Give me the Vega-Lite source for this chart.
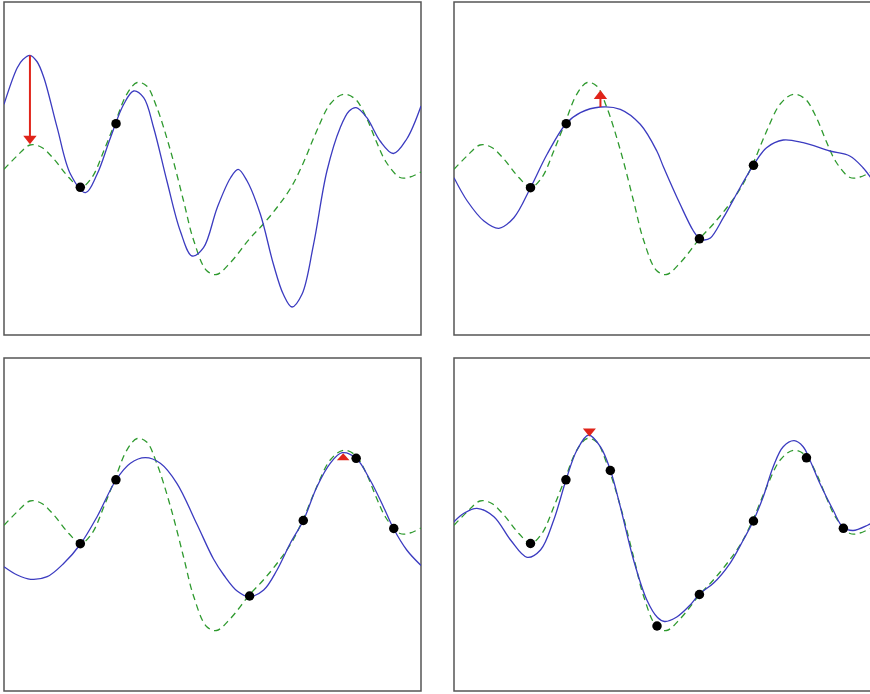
{
  "$schema": "https://vega.github.io/schema/vega-lite/v6.json",
  "padding": {"left": 3, "top": 1, "right": 0, "bottom": 0},
  "background": "white",
  "config": {"view": {"stroke": "#555555", "strokeWidth": 1.5}},
  "datasets": {
    "truth": [
      {"x":0,"y":167.3},{"x":13,"y":154},{"x":26,"y":143},{"x":37,"y":145},{"x":50,"y":157},{"x":65,"y":175.5},{"x":77,"y":185.5},{"x":88,"y":175.7},{"x":100,"y":149},{"x":112,"y":119},{"x":123,"y":92.3},{"x":133.5,"y":80.5},{"x":143,"y":84},{"x":153,"y":105},{"x":167,"y":149},{"x":180,"y":199},{"x":190,"y":238},{"x":203,"y":268.5},{"x":213,"y":272.5},{"x":227,"y":260.5},{"x":246,"y":237},{"x":260,"y":222},{"x":274,"y":205},{"x":288,"y":185},{"x":300,"y":161},{"x":313,"y":130},{"x":327,"y":102},{"x":340,"y":92.3},{"x":352,"y":97},{"x":363,"y":115},{"x":373,"y":139},{"x":383,"y":160},{"x":397,"y":175.5},{"x":407,"y":175},{"x":418,"y":170}
    ],
    "mean": [
      {"panel":1,"x":0,"y":102.3},{"panel":1,"x":13.3,"y":65.7},{"panel":1,"x":19,"y":57.5},{"panel":1,"x":26,"y":53.3},{"panel":1,"x":33,"y":59.5},{"panel":1,"x":40,"y":75.7},{"panel":1,"x":53.3,"y":125.7},{"panel":1,"x":66.7,"y":172.3},{"panel":1,"x":81.7,"y":190.7},{"panel":1,"x":93.3,"y":172.3},{"panel":1,"x":106.7,"y":135.7},{"panel":1,"x":120,"y":102.3},{"panel":1,"x":130,"y":89},{"panel":1,"x":140,"y":95.7},{"panel":1,"x":150,"y":125.7},{"panel":1,"x":163.3,"y":179},{"panel":1,"x":176.7,"y":229},{"panel":1,"x":188.5,"y":254},{"panel":1,"x":200,"y":245.7},{"panel":1,"x":213.7,"y":205.7},{"panel":1,"x":227,"y":176},{"panel":1,"x":234.7,"y":167.3},{"panel":1,"x":243.7,"y":179},{"panel":1,"x":257,"y":212.3},{"panel":1,"x":270,"y":262},{"panel":1,"x":280,"y":292.3},{"panel":1,"x":288.7,"y":305},{"panel":1,"x":298.7,"y":292.3},{"panel":1,"x":310.3,"y":242.3},{"panel":1,"x":323.7,"y":169},{"panel":1,"x":337,"y":125.7},{"panel":1,"x":346,"y":109},{"panel":1,"x":353,"y":105.7},{"panel":1,"x":363.7,"y":115.7},{"panel":1,"x":377,"y":139},{"panel":1,"x":390.3,"y":151.5},{"panel":1,"x":403.7,"y":137},{"panel":1,"x":418,"y":104},
      {"panel":2,"x":0,"y":175.7},{"panel":2,"x":13.3,"y":199},{"panel":2,"x":30,"y":219},{"panel":2,"x":45,"y":226.3},{"panel":2,"x":60,"y":215.7},{"panel":2,"x":76.7,"y":185.7},{"panel":2,"x":93.3,"y":152.3},{"panel":2,"x":112.3,"y":121.7},{"panel":2,"x":126.7,"y":110.7},{"panel":2,"x":146.7,"y":105},{"panel":2,"x":166.7,"y":107.3},{"panel":2,"x":186.7,"y":122.3},{"panel":2,"x":203.3,"y":149},{"panel":2,"x":210,"y":165},{"panel":2,"x":226.7,"y":202.3},{"panel":2,"x":240,"y":229},{"panel":2,"x":246,"y":236.5},{"panel":2,"x":251,"y":238},{"panel":2,"x":257,"y":236},{"panel":2,"x":270,"y":215.7},{"panel":2,"x":286.7,"y":185.7},{"panel":2,"x":300,"y":163.3},{"panel":2,"x":313.3,"y":145.7},{"panel":2,"x":330,"y":138},{"panel":2,"x":350,"y":140.7},{"panel":2,"x":376.7,"y":149},{"panel":2,"x":396.7,"y":154},{"panel":2,"x":410,"y":165.7},{"panel":2,"x":418,"y":176},
      {"panel":3,"x":0,"y":208.7},{"panel":3,"x":13.3,"y":217},{"panel":3,"x":26.7,"y":221.3},{"panel":3,"x":43.3,"y":218.7},{"panel":3,"x":60,"y":205.3},{"panel":3,"x":76.7,"y":186},{"panel":3,"x":93.3,"y":158.7},{"panel":3,"x":112.3,"y":122},{"panel":3,"x":126.7,"y":105.3},{"panel":3,"x":141.7,"y":99.7},{"panel":3,"x":156.7,"y":105.3},{"panel":3,"x":173.3,"y":125.3},{"panel":3,"x":193.3,"y":166},{"panel":3,"x":210,"y":201},{"panel":3,"x":220.3,"y":217},{"panel":3,"x":233.7,"y":233},{"panel":3,"x":246,"y":238.7},{"panel":3,"x":260.3,"y":232},{"panel":3,"x":273.7,"y":212},{"panel":3,"x":287,"y":185.3},{"panel":3,"x":300.3,"y":162},{"panel":3,"x":313.7,"y":128.7},{"panel":3,"x":327,"y":105.3},{"panel":3,"x":339,"y":94.7},{"panel":3,"x":353,"y":100.3},{"panel":3,"x":367,"y":122},{"panel":3,"x":380.3,"y":148.7},{"panel":3,"x":390.3,"y":170.3},{"panel":3,"x":403.7,"y":192},{"panel":3,"x":418,"y":207.5},
      {"panel":4,"x":0,"y":163.7},{"panel":4,"x":10,"y":155.3},{"panel":4,"x":23,"y":150.3},{"panel":4,"x":40,"y":158.7},{"panel":4,"x":56.7,"y":182},{"panel":4,"x":73.3,"y":199.3},{"panel":4,"x":86.7,"y":192},{"panel":4,"x":100,"y":162},{"panel":4,"x":112.3,"y":122},{"panel":4,"x":123.3,"y":92},{"panel":4,"x":135,"y":77},{"panel":4,"x":146.7,"y":88.7},{"panel":4,"x":156.7,"y":112},{"panel":4,"x":166.7,"y":148.7},{"panel":4,"x":180,"y":202},{"panel":4,"x":193.3,"y":242},{"panel":4,"x":204,"y":259.5},{"panel":4,"x":211,"y":263.5},{"panel":4,"x":223.3,"y":259},{"panel":4,"x":236.7,"y":247},{"panel":4,"x":246,"y":236},{"panel":4,"x":260,"y":225.3},{"panel":4,"x":276.7,"y":205.3},{"panel":4,"x":290,"y":182},{"panel":4,"x":300,"y":163},{"panel":4,"x":310,"y":138.7},{"panel":4,"x":320,"y":108.7},{"panel":4,"x":330,"y":88.7},{"panel":4,"x":341,"y":82.7},{"panel":4,"x":350,"y":88.7},{"panel":4,"x":356.7,"y":102},{"panel":4,"x":366.7,"y":125.3},{"panel":4,"x":380,"y":152},{"panel":4,"x":390,"y":169.3},{"panel":4,"x":400,"y":172.5},{"panel":4,"x":415,"y":167},{"panel":4,"x":418,"y":165.5}
    ],
    "obs": [
      {"panel":1,"x":76.5,"y":185.3},{"panel":1,"x":112.3,"y":121.7},
      {"panel":2,"x":76.7,"y":185.7},{"panel":2,"x":112.5,"y":121.7},{"panel":2,"x":246,"y":236.8},{"panel":2,"x":300.2,"y":163.3},
      {"panel":3,"x":76.5,"y":185.7},{"panel":3,"x":112.2,"y":121.8},{"panel":3,"x":246.2,"y":238},{"panel":3,"x":300,"y":162.5},{"panel":3,"x":353,"y":100.3},{"panel":3,"x":390.7,"y":170.5},
      {"panel":4,"x":76.7,"y":185.5},{"panel":4,"x":112.2,"y":121.8},{"panel":4,"x":156.7,"y":112.5},{"panel":4,"x":203.5,"y":268},{"panel":4,"x":246,"y":236.5},{"panel":4,"x":300.2,"y":163},{"panel":4,"x":353.3,"y":99.8},{"panel":4,"x":390.3,"y":170.3}
    ],
    "arrows": [
      {"panel":1,"x":26,"from":53.5,"to":136,"head":138},
      {"panel":2,"x":146.8,"from":105,"to":96,"head":92.7},
      {"panel":3,"x":340,"from":98.7,"to":98.7,"head":98.7},
      {"panel":4,"x":135.7,"from":74.5,"to":74.5,"head":74.5}
    ]
  },
  "concat": [
    {
      "width": 417, "height": 333,
      "layer": [
        {"data": {"name": "truth"}, "mark": {"type": "line", "color": "#2f9a2f", "strokeWidth": 1.3, "strokeDash": [6.5, 4.5], "interpolate": "catmull-rom", "clip": true},
         "encoding": {"x": {"field": "x", "type": "quantitative", "scale": {"domain": [0, 418], "nice": false, "zero": false}, "axis": null}, "y": {"field": "y", "type": "quantitative", "scale": {"domain": [0, 333], "reverse": true, "nice": false, "zero": false}, "axis": null}}},
        {"data": {"name": "mean"}, "transform": [{"filter": "datum.panel == 1"}], "mark": {"type": "line", "color": "#3b3bc0", "strokeWidth": 1.3, "interpolate": "catmull-rom", "clip": true},
         "encoding": {"x": {"field": "x", "type": "quantitative"}, "y": {"field": "y", "type": "quantitative"}}},
        {"data": {"name": "obs"}, "transform": [{"filter": "datum.panel == 1"}], "mark": {"type": "circle", "color": "#000000", "opacity": 1, "size": 90},
         "encoding": {"x": {"field": "x", "type": "quantitative"}, "y": {"field": "y", "type": "quantitative"}}},
        {"data": {"name": "arrows"}, "transform": [{"filter": "datum.panel == 1"}], "mark": {"type": "rule", "color": "#e0241a", "strokeWidth": 2},
         "encoding": {"x": {"field": "x", "type": "quantitative"}, "y": {"field": "from", "type": "quantitative"}, "y2": {"field": "to"}}},
        {"data": {"name": "arrows"}, "transform": [{"filter": "datum.panel == 1"}], "mark": {"type": "point", "filled": true, "color": "#e0241a", "opacity": 1, "size": 180, "shape": "M-1,-0.65L1,-0.65L0,0.65Z"},
         "encoding": {"x": {"field": "x", "type": "quantitative"}, "y": {"field": "head", "type": "quantitative"}}}
      ]
    },
    {
      "width": 417, "height": 333,
      "layer": [
        {"data": {"name": "truth"}, "mark": {"type": "line", "color": "#2f9a2f", "strokeWidth": 1.3, "strokeDash": [6.5, 4.5], "interpolate": "catmull-rom", "clip": true},
         "encoding": {"x": {"field": "x", "type": "quantitative", "scale": {"domain": [0, 418], "nice": false, "zero": false}, "axis": null}, "y": {"field": "y", "type": "quantitative", "scale": {"domain": [0, 333], "reverse": true, "nice": false, "zero": false}, "axis": null}}},
        {"data": {"name": "mean"}, "transform": [{"filter": "datum.panel == 2"}], "mark": {"type": "line", "color": "#3b3bc0", "strokeWidth": 1.3, "interpolate": "catmull-rom", "clip": true},
         "encoding": {"x": {"field": "x", "type": "quantitative"}, "y": {"field": "y", "type": "quantitative"}}},
        {"data": {"name": "obs"}, "transform": [{"filter": "datum.panel == 2"}], "mark": {"type": "circle", "color": "#000000", "opacity": 1, "size": 90},
         "encoding": {"x": {"field": "x", "type": "quantitative"}, "y": {"field": "y", "type": "quantitative"}}},
        {"data": {"name": "arrows"}, "transform": [{"filter": "datum.panel == 2"}], "mark": {"type": "rule", "color": "#e0241a", "strokeWidth": 2},
         "encoding": {"x": {"field": "x", "type": "quantitative"}, "y": {"field": "from", "type": "quantitative"}, "y2": {"field": "to"}}},
        {"data": {"name": "arrows"}, "transform": [{"filter": "datum.panel == 2"}], "mark": {"type": "point", "filled": true, "color": "#e0241a", "opacity": 1, "size": 180, "shape": "M-1,0.65L1,0.65L0,-0.65Z"},
         "encoding": {"x": {"field": "x", "type": "quantitative"}, "y": {"field": "head", "type": "quantitative"}}}
      ]
    },
    {
      "width": 417, "height": 333,
      "layer": [
        {"data": {"name": "truth"}, "mark": {"type": "line", "color": "#2f9a2f", "strokeWidth": 1.3, "strokeDash": [6.5, 4.5], "interpolate": "catmull-rom", "clip": true},
         "encoding": {"x": {"field": "x", "type": "quantitative", "scale": {"domain": [0, 418], "nice": false, "zero": false}, "axis": null}, "y": {"field": "y", "type": "quantitative", "scale": {"domain": [0, 333], "reverse": true, "nice": false, "zero": false}, "axis": null}}},
        {"data": {"name": "mean"}, "transform": [{"filter": "datum.panel == 3"}], "mark": {"type": "line", "color": "#3b3bc0", "strokeWidth": 1.3, "interpolate": "catmull-rom", "clip": true},
         "encoding": {"x": {"field": "x", "type": "quantitative"}, "y": {"field": "y", "type": "quantitative"}}},
        {"data": {"name": "arrows"}, "transform": [{"filter": "datum.panel == 3"}], "mark": {"type": "point", "filled": true, "color": "#e0241a", "opacity": 1, "size": 160, "shape": "M-1,0.55L1,0.55L0,-0.55Z"},
         "encoding": {"x": {"field": "x", "type": "quantitative"}, "y": {"field": "head", "type": "quantitative"}}},
        {"data": {"name": "obs"}, "transform": [{"filter": "datum.panel == 3"}], "mark": {"type": "circle", "color": "#000000", "opacity": 1, "size": 90},
         "encoding": {"x": {"field": "x", "type": "quantitative"}, "y": {"field": "y", "type": "quantitative"}}}
      ]
    },
    {
      "width": 417, "height": 333,
      "layer": [
        {"data": {"name": "truth"}, "mark": {"type": "line", "color": "#2f9a2f", "strokeWidth": 1.3, "strokeDash": [6.5, 4.5], "interpolate": "catmull-rom", "clip": true},
         "encoding": {"x": {"field": "x", "type": "quantitative", "scale": {"domain": [0, 418], "nice": false, "zero": false}, "axis": null}, "y": {"field": "y", "type": "quantitative", "scale": {"domain": [0, 333], "reverse": true, "nice": false, "zero": false}, "axis": null}}},
        {"data": {"name": "mean"}, "transform": [{"filter": "datum.panel == 4"}], "mark": {"type": "line", "color": "#3b3bc0", "strokeWidth": 1.3, "interpolate": "catmull-rom", "clip": true},
         "encoding": {"x": {"field": "x", "type": "quantitative"}, "y": {"field": "y", "type": "quantitative"}}},
        {"data": {"name": "arrows"}, "transform": [{"filter": "datum.panel == 4"}], "mark": {"type": "point", "filled": true, "color": "#e0241a", "opacity": 1, "size": 170, "shape": "M-1,-0.62L1,-0.62L0,0.62Z"},
         "encoding": {"x": {"field": "x", "type": "quantitative"}, "y": {"field": "head", "type": "quantitative"}}},
        {"data": {"name": "obs"}, "transform": [{"filter": "datum.panel == 4"}], "mark": {"type": "circle", "color": "#000000", "opacity": 1, "size": 90},
         "encoding": {"x": {"field": "x", "type": "quantitative"}, "y": {"field": "y", "type": "quantitative"}}}
      ]
    }
  ],
  "columns": 2,
  "spacing": {"row": 21, "column": 31}
}
